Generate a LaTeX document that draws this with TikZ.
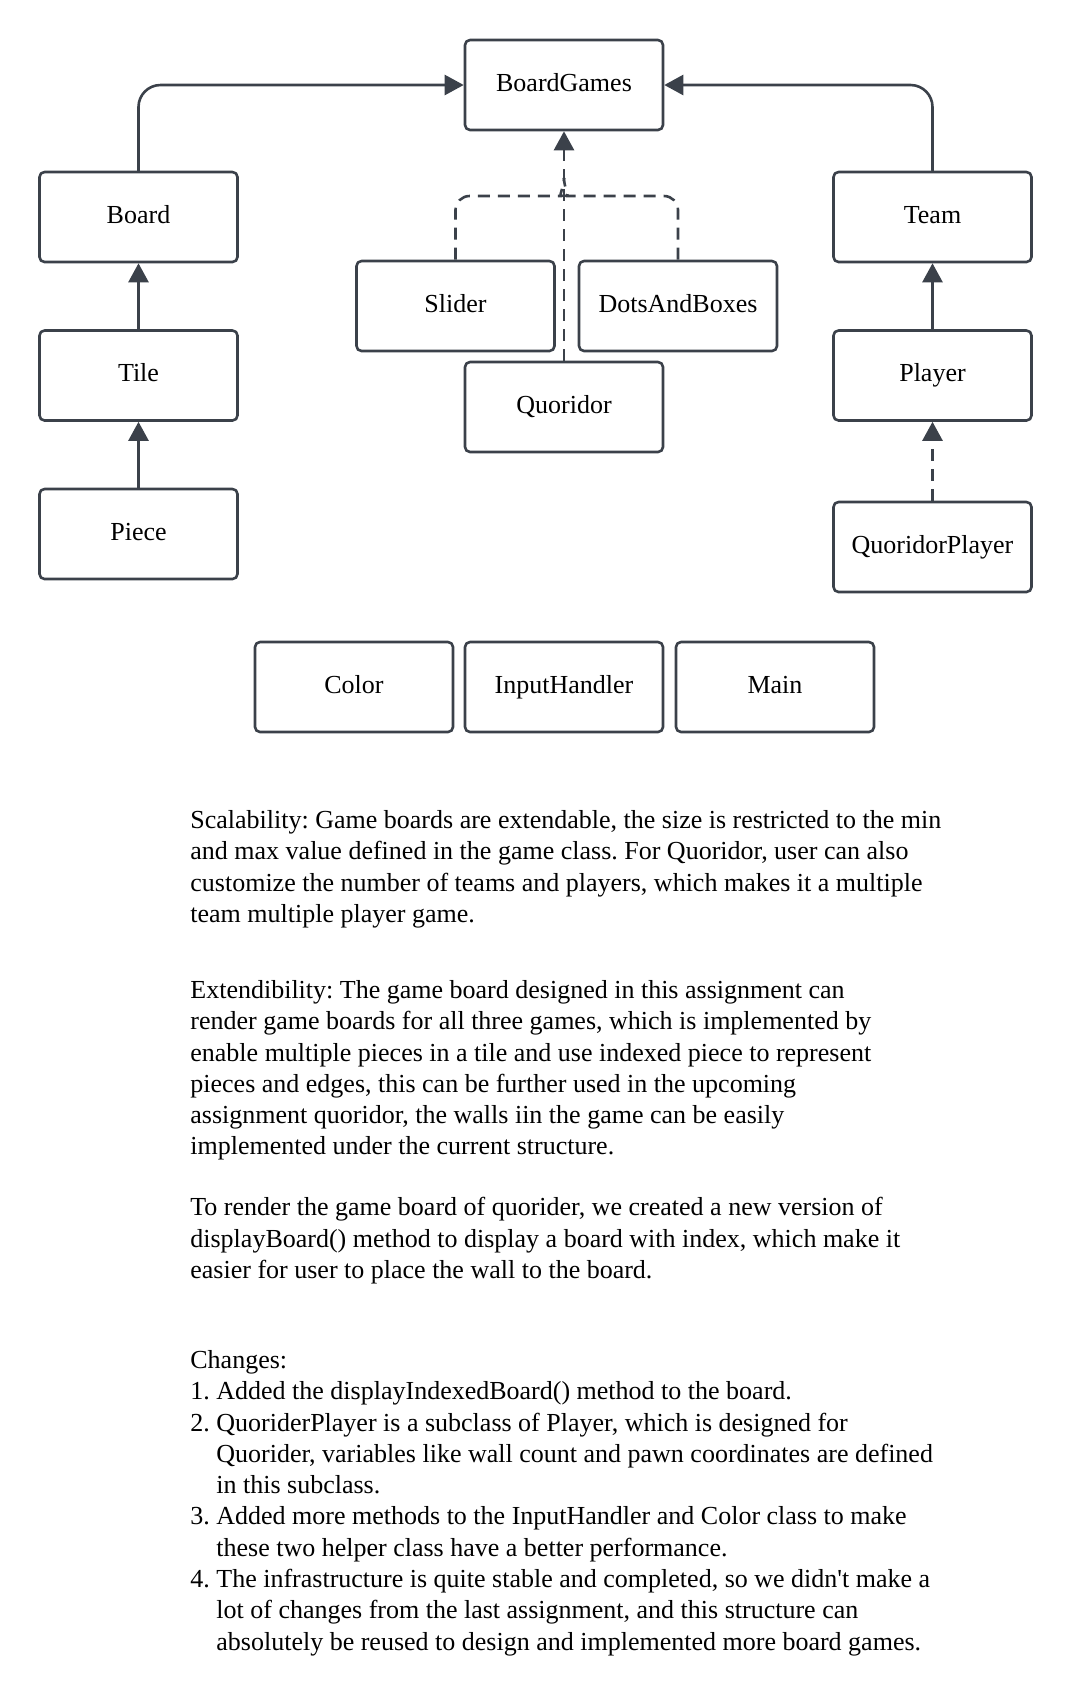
\documentclass[tikz,border=0pt]{standalone}
\usepackage{fontspec}
\setmainfont{Liberation Serif}
\usetikzlibrary{arrows.meta}
\definecolor{linegray}{HTML}{3B414A}

\begin{document}
\begin{tikzpicture}[x=0.5pt,y=-0.5pt,>={Triangle[length=9.5pt,width=10pt]}, line join=round, line cap=round,
    box/.style={draw=linegray, line width=1.3pt, rounded corners=2.5pt, minimum width=99pt, minimum height=45pt,
        inner sep=0pt, text height=9pt, text depth=3pt, font=\fontsize{13}{15.65}\selectfont},
    link/.style={draw=linegray, line width=1.3pt, ->},
    dash link/.style={link, line cap=butt, dash pattern=on 6pt off 4pt},
    para/.style={anchor=north west, inner sep=0pt, align=left, font=\fontsize{13}{15.65}\selectfont\frenchspacing}]
    \def\txtx{190} % left edge of the notes
    \useasboundingbox (0,0) rectangle (1072,1704);

    % classes
    \node[box] (games) at (564,85) {BoardGames};
    \node[box] (board) at (138.5,217) {Board};
    \node[box] (team) at (932.5,217) {Team};
    \node[box] (slider) at (455.5,306) {Slider};
    \node[box] (dots) at (678,306) {DotsAndBoxes};
    \node[box] (tile) at (138.5,375.5) {Tile};
    \node[box] (player) at (932.5,375.5) {Player};
    \node[box] (quoridor) at (564,407) {Quoridor};
    \node[box] (piece) at (138.5,534) {Piece};
    \node[box] (qplayer) at (932.5,547) {QuoridorPlayer};
    \node[box] (color) at (354,687) {Color};
    \node[box] (input) at (564,687) {InputHandler};
    \node[box] (main) at (775,687) {Main};

    % links
    \draw[link, rounded corners=11pt] (board.north) |- (games.west);
    \draw[link, rounded corners=11pt] (team.north) |- (games.east);
    \draw[link] (tile) -- (board);
    \draw[link] (piece) -- (tile);
    \draw[link] (player) -- (team);
    \draw[dash link] (qplayer) -- (player);
    \draw[dash link] (quoridor) -- (games);
    \coordinate (join) at (564,178);
    \draw[dash link, -, rounded corners=7pt] (slider.north) |- (548,196) .. controls (558,196) and (564,188) .. (join);
    \draw[dash link, -, rounded corners=7pt] (dots.north) |- (580,196) .. controls (570,196) and (564,188) .. (join);

    % notes
    \node[para] (scal) at (\txtx,810) {Scalability: Game boards are extendable, the size is restricted to the min\\
        and max value defined in the game class. For Quoridor, user can also\\
        customize the number of teams and players, which makes it a multiple\\
        team multiple player game.};
    \node[para] (ext) at (\txtx,980) {Extendibility: The game board designed in this assignment can\\
        render game boards for all three games, which is implemented by\\
        enable multiple pieces in a tile and use indexed piece to represent\\
        pieces and edges, this can be further used in the upcoming\\
        assignment quoridor, the walls iin the game can be easily\\
        implemented under the current structure.};
    \node[para] (render) at (\txtx,1197) {To render the game board of quorider, we created a new version of\\
        displayBoard() method to display a board with index, which make it\\
        easier for user to place the wall to the board.};
    \node[para] (changes) at (\txtx,1350) {Changes:\\
        1. Added the displayIndexedBoard() method to the board.\\
        2. QuoriderPlayer is a subclass of Player, which is designed for\\
        \hphantom{2. }Quorider, variables like wall count and pawn coordinates are defined\\
        \hphantom{2. }in this subclass.\\
        3. Added more methods to the InputHandler and Color class to make\\
        \hphantom{3. }these two helper class have a better performance.\\
        4. The infrastructure is quite stable and completed, so we didn\textquotesingle t make a\\
        \hphantom{4. }lot of changes from the last assignment, and this structure can\\
        \hphantom{4. }absolutely be reused to design and implemented more board games.};
\end{tikzpicture}
\end{document}
